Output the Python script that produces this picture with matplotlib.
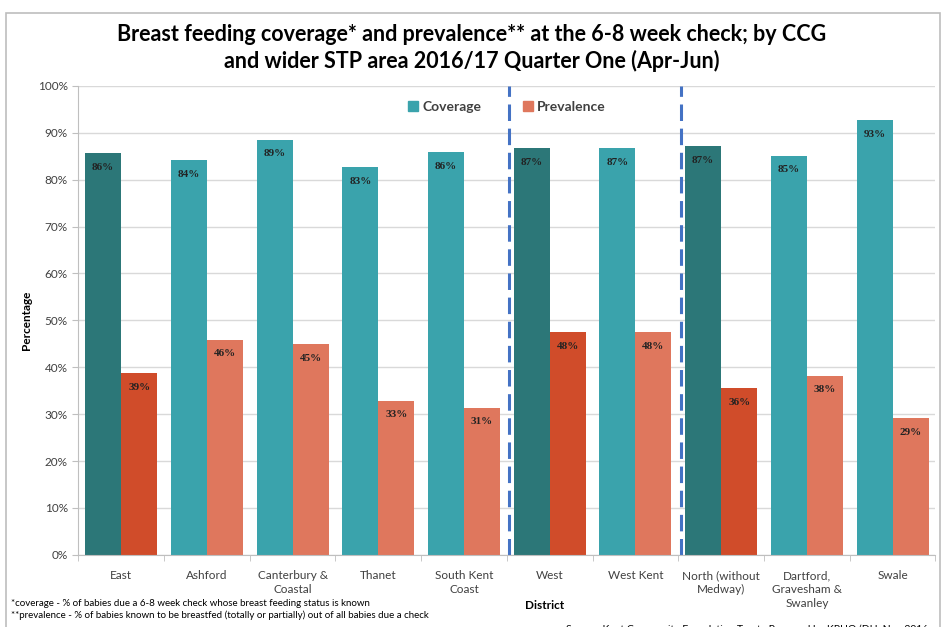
import numpy as np
import matplotlib.pyplot as plt
from matplotlib.patches import Rectangle

plt.rcParams['font.family'] = ['Lato', 'DejaVu Sans']

# data
districts = ["East", "Ashford", "Canterbury &\nCoastal", "Thanet", "South Kent\nCoast",
             "West", "West Kent", "North (without\nMedway)", "Dartford,\nGravesham &\nSwanley", "Swale"]
coverage = [85.7, 84.2, 88.5, 82.7, 85.8, 86.7, 86.7, 87.1, 85.1, 92.7]
prevalence = [38.7, 45.9, 44.9, 32.9, 31.4, 47.5, 47.5, 35.5, 38.2, 29.1]
cov_labels = ["86%", "84%", "89%", "83%", "86%", "87%", "87%", "87%", "85%", "93%"]
prev_labels = ["39%", "46%", "45%", "33%", "31%", "48%", "48%", "36%", "38%", "29%"]
stp_totals = [0, 5, 7]   # wider STP area bars drawn darker
dividers = [4.53, 6.53]

COV, COV_DARK = "#3AA3AC", "#2C7778"
PREV, PREV_DARK = "#DF775D", "#D04C2A"

fig = plt.figure(figsize=(9.43, 6.27), dpi=100)
fig.patches.append(Rectangle((0.006, -0.02), 0.991, 1.0, transform=fig.transFigure,
                             fill=False, edgecolor="#bdbdbd", linewidth=1.2))
ax = fig.add_axes([0.083, 0.115, 0.909, 0.748])

x = np.arange(len(districts))
w = 0.42
cov_cols = [COV_DARK if i in stp_totals else COV for i in x]
prev_cols = [PREV_DARK if i in stp_totals else PREV for i in x]
b1 = ax.bar(x - w / 2, coverage, w, color=cov_cols, label="Coverage", zorder=2)
b2 = ax.bar(x + w / 2, prevalence, w, color=prev_cols, label="Prevalence", zorder=2)

for bars, lbls in ((b1, cov_labels), (b2, prev_labels)):
    for b, t in zip(bars, lbls):
        ax.text(b.get_x() + b.get_width() / 2, b.get_height() - 3.0, t, ha="center",
                va="center", fontsize=8, fontweight="bold", color="#222222",
                family="Liberation Serif", zorder=3)

for d in dividers:
    ax.axvline(d, color="#4472C4", linestyle=(0, (5.4, 2.5)), linewidth=2.2, zorder=1)

ax.set_xlim(-0.5, len(districts) - 0.5)
ax.set_ylim(0, 100)
ax.set_yticks(np.arange(0, 101, 10))
ax.set_yticklabels([f"{v}%" for v in range(0, 101, 10)])
ax.set_xticks(x)
ax.set_xticklabels(districts, fontsize=8.5, color="#404040", linespacing=1.3)
ax.set_xticks(np.arange(-0.5, len(districts), 1), minor=True)
ax.tick_params(axis="x", which="major", length=0, pad=11)
ax.tick_params(axis="x", which="minor", length=4, color="#bfbfbf")
ax.tick_params(axis="y", labelsize=8.5, labelcolor="#404040", length=4, color="#bfbfbf")
ax.grid(axis="y", color="#d9d9d9", linewidth=1, zorder=0)
ax.set_axisbelow(True)
for s in ("top", "right"):
    ax.spines[s].set_visible(False)
for s in ("left", "bottom"):
    ax.spines[s].set_color("#bfbfbf")

ax.set_ylabel("Percentage", fontsize=8.5, fontweight="bold", labelpad=4)
leg = ax.legend(loc="upper center", bbox_to_anchor=(0.5, 0.995), ncol=2, frameon=False,
                handlelength=0.7, handleheight=0.7, columnspacing=3,
                handletextpad=0.3, prop={"family": "Lato", "weight": "bold", "size": 10})
for h, c in zip(leg.legend_handles, (COV, PREV)):
    h.set_color(c)
for t in leg.get_texts():
    t.set_color("#404040")

fig.text(0.5, 0.945, "Breast feeding coverage* and prevalence** at the 6-8 week check; by CCG",
         ha="center", va="center", fontsize=15.5, fontweight="bold")
fig.text(0.5, 0.903, "and wider STP area 2016/17 Quarter One (Apr-Jun)",
         ha="center", va="center", fontsize=15.5, fontweight="bold")

fig.text(0.012, 0.037, "*coverage - % of babies due a 6-8 week check whose breast feeding status is known",
         fontsize=7, va="center")
fig.text(0.012, 0.019, "**prevalence - % of babies known to be breastfed (totally or partially) out of all babies due a check",
         fontsize=7, va="center")
fig.text(0.578, 0.035, "District", fontsize=8.5, fontweight="bold", va="center", ha="center")
fig.text(0.6, -0.003, "Source: Kent Community Foundation Trust.  Prepared by KPHO (DH, Nov 2016",
         fontsize=7.5, va="center")

fig.savefig("out.png", dpi=100)
